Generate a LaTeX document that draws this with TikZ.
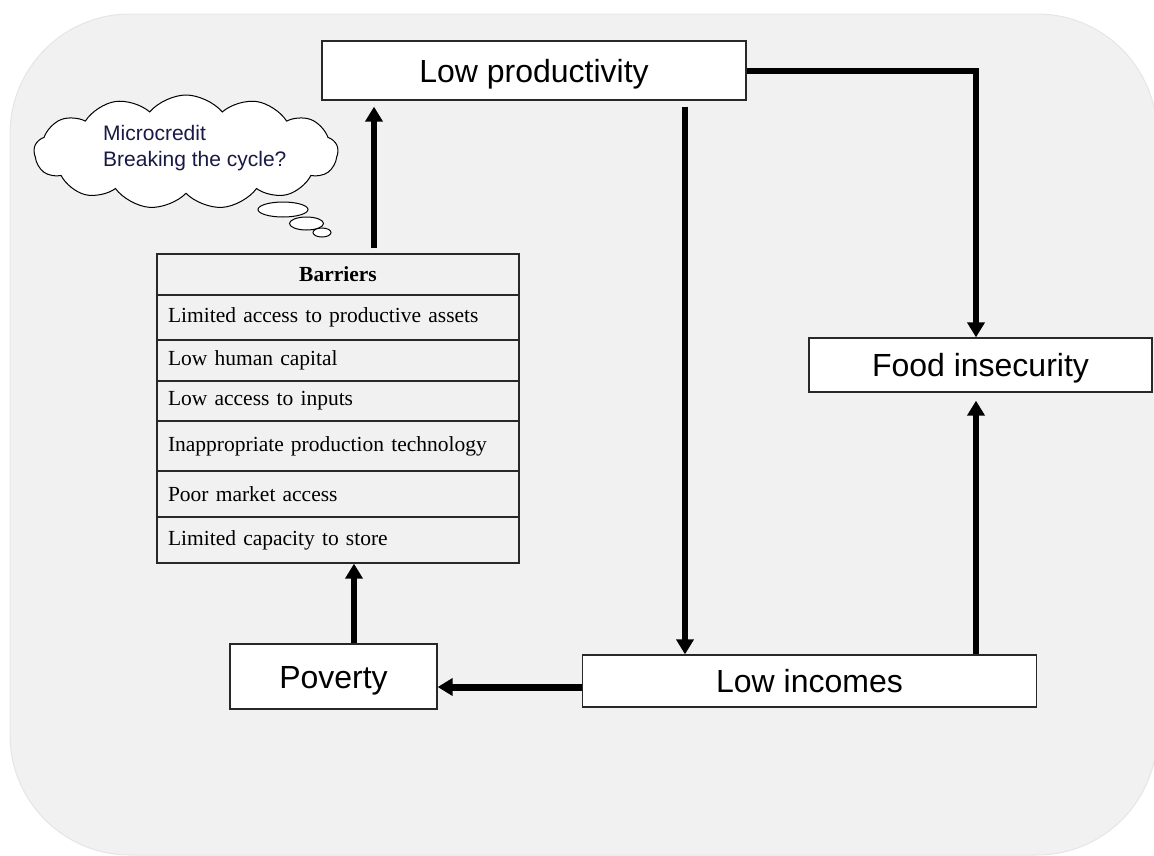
\documentclass[tikz,border=0pt]{standalone}
\usepackage{fontspec}
\setmainfont{Liberation Serif}
\newfontfamily\arialfont{Liberation Sans}
\usetikzlibrary{arrows.meta,shapes.symbols,shapes.geometric}
\definecolor{bg}{RGB}{241,241,241}
\definecolor{bgedge}{RGB}{229,229,229}
\definecolor{boxline}{RGB}{40,40,40}
\definecolor{cloudtext}{RGB}{25,25,70}
\begin{document}
\begin{tikzpicture}[x=1pt,y=-1pt,
  box/.style={draw=boxline, line width=1.3pt, fill=white, inner sep=0pt, text height=23pt, text depth=0pt, font=\arialfont\fontsize{32}{36}\selectfont},
  row/.style={draw=boxline, line width=1.3pt, inner xsep=11pt, inner ysep=0pt, text width=340pt, align=left, font=\fontsize{21.5}{24}\selectfont},
  arr/.style={line width=6pt, line join=miter, -{Triangle[length=15pt,width=17pt]}},
  bubble/.style={draw=black, line width=1pt, fill=white}
]
\useasboundingbox (0,0) rectangle (1154,855);
\fill[bg, draw=bgedge, line width=1pt, rounded corners=120pt] (10,14) rectangle (1157,855);

% main boxes
\node[box, minimum width=424pt, minimum height=59pt] (lp) at (534,70.5) {Low productivity};
\node[box, minimum width=343pt, minimum height=54pt] (fi) at (980.5,365) {Food insecurity};
\node[box, minimum width=207pt, minimum height=65pt] (pov) at (333.5,676.5) {Poverty};
\node[box, minimum width=454pt, minimum height=52pt] (li) at (809.5,681) {Low incomes};

% barriers table
\node[row, minimum height=41pt, align=center, font=\bfseries\fontsize{21.5}{24}\selectfont] (hdr) at (338,274.5) {Barriers};
\node[row, minimum height=45pt] (r1) at (338,317.5) {Limited access to productive assets};
\node[row, minimum height=41pt] (r2) at (338,360.5) {Low human capital};
\node[row, minimum height=40pt] (r3) at (338,401) {Low access to inputs};
\node[row, minimum height=50pt] (r4) at (338,446) {Inappropriate production technology};
\node[row, minimum height=46pt] (r5) at (338,494) {Poor market access};
\node[row, minimum height=46pt] (r6) at (338,540) {Limited capacity to store};

% cloud
\node[cloud, cloud puffs=13, cloud puff arc=100, aspect=2.7, draw=black, line width=1pt, fill=white, minimum width=304pt, minimum height=114pt, inner sep=0pt] (cloud) at (186,152) {};
\node[font=\arialfont\fontsize{21}{26}\selectfont, align=left, text=cloudtext, anchor=north west, inner sep=0pt] (ctext) at (103,125) {Microcredit\\Breaking the cycle?};
\draw[bubble] (283,209.5) ellipse [x radius=25, y radius=7.5];
\draw[bubble] (306.5,223.5) ellipse [x radius=17, y radius=6.5];
\draw[bubble] (322,232.5) ellipse [x radius=9, y radius=4.5];

% connectors
\coordinate (xa) at (374,0);
\coordinate (xb) at (685,0);
\coordinate (xc) at (976,0);
\coordinate (yd) at (0,687);
\coordinate (xe) at (354,0);
\draw[arr, shorten <=5pt, shorten >=6pt] (hdr.north -| xa) -- (lp.south -| xa);
\draw[arr, shorten <=6pt] (lp.south -| xb) -- (li.north -| xb);
\draw[arr] (lp.east) -| (fi.north -| xc);
\draw[arr, shorten >=8pt] (li.north -| xc) -- (fi.south -| xc);
\draw[arr, line width=7pt] (li.west |- yd) -- (pov.east |- yd);
\draw[arr] (pov.north -| xe) -- (r6.south -| xe);
\end{tikzpicture}
\end{document}
